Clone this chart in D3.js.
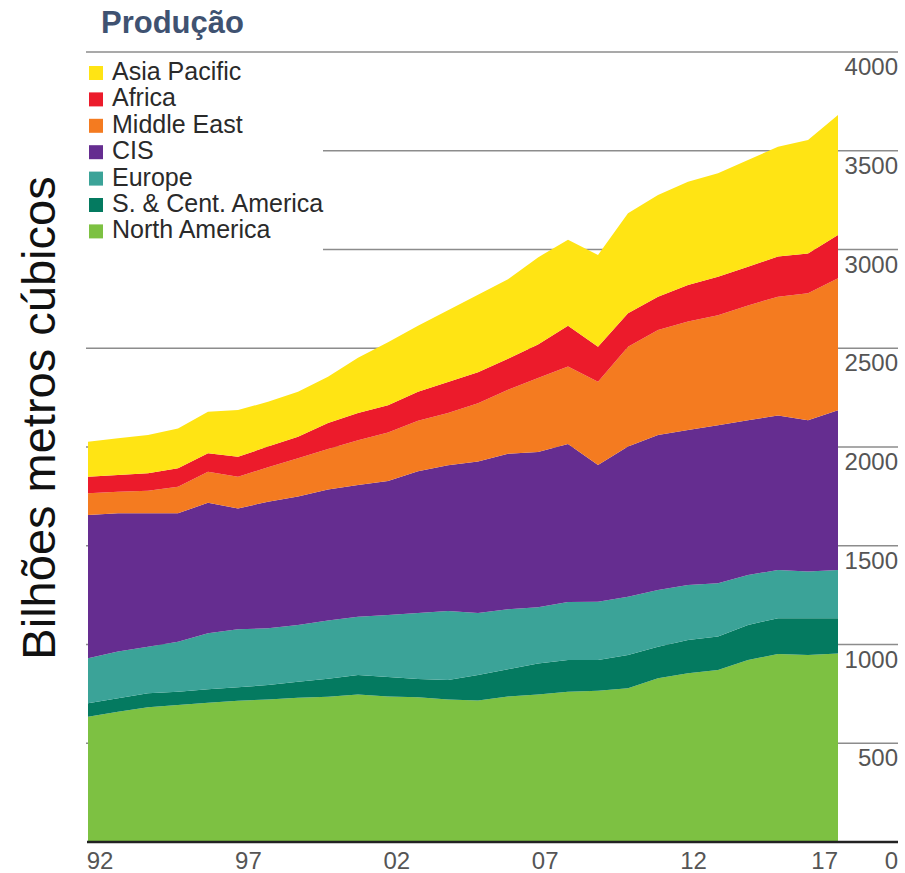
<!DOCTYPE html>
<html>
<head>
<meta charset="utf-8">
<title>Produção</title>
<script src="https://d3js.org/d3.v7.min.js"></script>
<style>
  body { margin: 0; background: #fff; }
  text { font-family: "Liberation Sans", Arial, Helvetica, sans-serif; }
</style>
</head>
<body>
<div id="chart"></div>
<script>

// years on the x axis
var years = [1992, 1993, 1994, 1995, 1996, 1997, 1998, 1999, 2000, 2001, 2002, 2003, 2004,
             2005, 2006, 2007, 2008, 2009, 2010, 2011, 2012, 2013, 2014, 2015, 2016, 2017];

// production by region, billion cubic metres
var northAmerica = [634, 660, 682, 694, 705, 715, 722, 731, 735, 747, 737, 733, 721,
                    717, 737, 747, 761, 766, 778, 829, 854, 871, 922, 952, 947, 954];
var southCentAmerica = [68, 68, 71, 67, 68, 68, 73, 81, 92, 98, 98, 92, 99,
                        128, 138, 157, 161, 156, 169, 160, 169, 169, 177, 181, 186, 179];
var europe = [228, 236, 236, 253, 284, 294, 287, 287, 295, 295, 315, 335, 349,
              315, 304, 285, 293, 295, 295, 287, 278, 270, 253, 244, 236, 244];
var cis = [726, 700, 675, 650, 661, 612, 641, 650, 663, 668, 678, 717, 738,
           766, 787, 786, 800, 692, 760, 785, 785, 800, 783, 783, 766, 809];
var middleEast = [110, 110, 115, 135, 157, 161, 174, 194, 205, 226, 246, 256, 265,
                  295, 324, 374, 393, 422, 506, 532, 549, 557, 582, 601, 643, 668];
var africa = [84, 84, 88, 93, 93, 101, 105, 109, 131, 138, 137, 147, 157,
              157, 157, 170, 206, 177, 169, 168, 185, 195, 196, 203, 202, 219];
var asiaPacific = [177, 186, 194, 202, 211, 236, 227, 228, 235, 280, 319, 334, 364,
                   393, 403, 441, 436, 464, 506, 515, 523, 524, 540, 556, 574, 608];

// stack order bottom -> top
var seriesNames = ["North America", "S. & Cent. America", "Europe", "CIS",
                   "Middle East", "Africa", "Asia Pacific"];
var seriesValues = [northAmerica, southCentAmerica, europe, cis, middleEast, africa, asiaPacific];
var seriesColors = ["#7dc142", "#047a60", "#3ba398", "#652d90", "#f47b20", "#ec1b2b", "#ffe414"];

// legend order (top -> bottom)
var legendNames = ["Asia Pacific", "Africa", "Middle East", "CIS", "Europe",
                   "S. & Cent. America", "North America"];

var yTicks = [500, 1000, 1500, 2000, 2500, 3000, 3500, 4000];
var xTickYears = [1992, 1997, 2002, 2007, 2012, 2017];
var xTickLabels = ["92", "97", "02", "07", "12", "17"];

var width = 905, height = 873;

var svg = d3.select("#chart").append("svg")
    .attr("width", width)
    .attr("height", height);

svg.append("rect").attr("width", width).attr("height", height).attr("fill", "#fff");

var x = d3.scaleLinear().domain([1992, 2017]).range([88, 838]);
var y = d3.scaleLinear().domain([0, 4000]).range([842, 52]);
// the year labels sit a bit right of the data points
var xLabel = d3.scaleLinear().domain([1992, 2017]).range([100, 842]);

// build rows for d3.stack
var rows = years.map(function (yr, i) {
  var r = { year: yr };
  seriesNames.forEach(function (name, k) { r[name] = seriesValues[k][i]; });
  return r;
});

var stacked = d3.stack().keys(seriesNames)(rows);

// gridlines go behind the areas
svg.append("g").selectAll("line")
  .data(yTicks)
  .join("line")
    .attr("x1", 86)
    .attr("x2", 898)
    .attr("y1", function (d) { return y(d); })
    .attr("y2", function (d) { return y(d); })
    .attr("stroke", "#8c8c8c")
    .attr("stroke-width", 1.5);

var area = d3.area()
    .x(function (d) { return x(d.data.year); })
    .y0(function (d) { return y(d[0]); })
    .y1(function (d) { return y(d[1]); });

svg.append("g").selectAll("path")
  .data(stacked)
  .join("path")
    .attr("d", area)
    .attr("fill", function (d, i) { return seriesColors[i]; });

// baseline
svg.append("line")
    .attr("x1", 87).attr("x2", 898)
    .attr("y1", y(0)).attr("y2", y(0))
    .attr("stroke", "#222")
    .attr("stroke-width", 2.5);

// right side value labels
svg.append("g").selectAll("text")
  .data(yTicks)
  .join("text")
    .attr("x", 898)
    .attr("y", function (d) { return y(d) + 23; })
    .attr("text-anchor", "end")
    .attr("font-size", 24)
    .attr("fill", "#555")
    .text(function (d) { return d; });

svg.append("text")
    .attr("x", 898)
    .attr("y", 869)
    .attr("text-anchor", "end")
    .attr("font-size", 24)
    .attr("fill", "#555")
    .text("0");

// year labels
svg.append("g").selectAll("text")
  .data(xTickYears)
  .join("text")
    .attr("x", function (d, i) { return i == xTickYears.length - 1 ? x(d) : xLabel(d); })
    .attr("y", 869)
    .attr("text-anchor", function (d, i) { return i == xTickYears.length - 1 ? "end" : "middle"; })
    .attr("font-size", 24)
    .attr("fill", "#555")
    .text(function (d, i) { return xTickLabels[i]; });

// legend, with white box over the gridlines
var legend = svg.append("g");
legend.append("rect")
    .attr("x", 84).attr("y", 57)
    .attr("width", 239).attr("height", 195)
    .attr("fill", "#fff");

legendNames.forEach(function (name, i) {
  var k = seriesNames.indexOf(name);
  var ly = 80 + i * 26.4;
  legend.append("rect")
      .attr("x", 89).attr("y", ly - 14)
      .attr("width", 14).attr("height", 14)
      .attr("fill", seriesColors[k]);
  legend.append("text")
      .attr("x", 112).attr("y", ly)
      .attr("font-size", 25)
      .attr("fill", "#2a2a2a")
      .text(name);
});

// title
svg.append("text")
    .attr("x", 101).attr("y", 33)
    .attr("font-size", 31)
    .attr("font-weight", "bold")
    .attr("fill", "#3f5271")
    .text("Produção");

// y axis title
svg.append("text")
    .attr("transform", "translate(55,418) rotate(-90)")
    .attr("text-anchor", "middle")
    .attr("font-size", 47)
    .attr("fill", "#111")
    .text("Bilhões metros cúbicos");

</script>
</body>
</html>
